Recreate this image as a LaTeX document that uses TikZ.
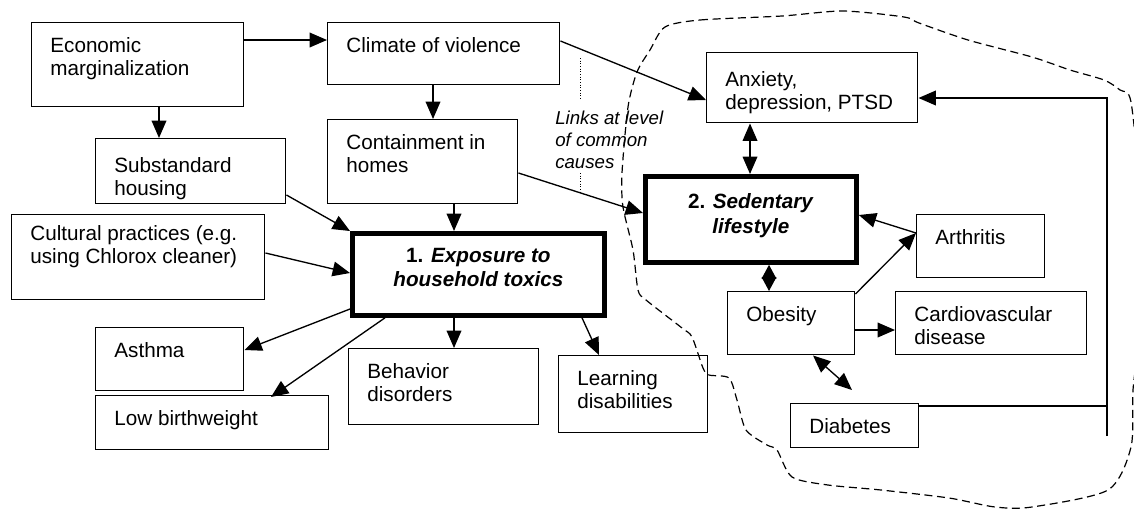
\documentclass[tikz,border=0pt]{standalone}
\usepackage{fontspec}
\setmainfont{Liberation Sans}
\usetikzlibrary{calc}
\usetikzlibrary{arrows.meta}

\newcommand{\celltext}[4][11.3pt]{\parbox[b][#3][t]{#2}{\leftskip=14pt\relax\vspace*{#1}#4}}
\newcommand{\maintext}[4][10.9pt]{\parbox[b][#3][t]{#2}{\centering\vspace*{#1}#4}}

\begin{document}
\begin{tikzpicture}[x=0.75pt,y=0.75pt,yscale=-1,xscale=1,
  box/.style={draw, line width=1.1pt, anchor=north west, inner sep=0pt, font=\fontsize{15.5}{17}\selectfont},
  mainbox/.style={draw, line width=3.6pt, anchor=north west, inner sep=0pt, font=\fontsize{15.5}{18.5}\selectfont\bfseries},
  link/.style={line width=1pt, -{Triangle[length=13pt,width=11pt]}},
  twolink/.style={line width=1pt, {Triangle[length=13pt,width=11pt]}-{Triangle[length=13pt,width=11pt]}}]
\useasboundingbox (0,0) rectangle (1134,508);

%Shape: Dashed outline [id:region]
\draw [line width=0.9pt, dash pattern={on 6pt off 3.5pt}] plot [smooth cycle, tension=0.45] coordinates {
  (665,27) (700,20) (782,16) (843,11) (904,17) (919,23) (968,40) (1032,57) (1070,70) (1104,80) (1120,90) (1131,102)
  (1140,200) (1139,330) (1133,390) (1131,447) (1108,490) (1032,507) (995,507) (949,498) (881,490) (828,485)
  (792,477) (777,450) (767,445) (746,430) (737,400) (729,378) (709,375) (703,368) (692,337) (682,328)
  (646,300) (638,290) (633,250) (623,207) (622,173) (628,107) (637,72) (650,50)};

% Boxes
\node [box] (econ) at (31,22) {\celltext{159pt}{63pt}{Economic\\marginalization}};
\node [box] (climate) at (327,22) {\celltext{174pt}{46.5pt}{Climate of violence}};
\node [box] (contain) at (327,119) {\celltext{142.5pt}{63pt}{Containment in\\homes}};
\node [box] (subst) at (95,138) {\celltext[14pt]{142.5pt}{48.75pt}{Substandard\\housing}};
\node [box] (cult) at (11,214) {\celltext[8pt]{189.75pt}{63.75pt}{Cultural practices (e.g.\\using Chlorox cleaner)}};
\node [mainbox] (expo) at (350,231) {\maintext{189pt}{61.5pt}{1. \textit{Exposure to}\\\textit{household toxics}}};
\node [box] (asthma) at (95,327) {\celltext{111pt}{47.25pt}{Asthma}};
\node [box] (lowbw) at (95,395) {\celltext{174.75pt}{40.5pt}{Low birthweight}};
\node [box] (behav) at (348,348) {\celltext{142.5pt}{57pt}{Behavior\\disorders}};
\node [box] (learn) at (558,355) {\celltext{111.75pt}{57.75pt}{Learning\\disabilities}};
\node [box] (anx) at (706,52) {\celltext[14pt]{158.25pt}{52.5pt}{Anxiety,\\depression, PTSD}};
\node [mainbox] (sed) at (643,174) {\maintext[13.2pt]{158.25pt}{64.5pt}{2. \textit{Sedentary}\\\textit{lifestyle}}};
\node [box] (arth) at (916,214) {\celltext{96pt}{47.25pt}{Arthritis}};
\node [box] (obes) at (727,291) {\celltext{95.25pt}{47.25pt}{Obesity}};
\node [box] (cardio) at (895,291) {\celltext{143.25pt}{47.25pt}{Cardiovascular\\disease}};
\node [box] (diab) at (790,403) {\celltext[11pt]{96pt}{33pt}{Diabetes}};

% Text Node
\node [anchor=north west, inner sep=0pt, align=left, font=\fontsize{14}{16.5}\selectfont\itshape] (links) at (555,111) {Links at level\\of common\\causes};
%Straight Lines [dotted]
\draw [line width=0.7pt, dash pattern={on 0.7pt off 1.3pt}] (580,58) -- (580,100);
\draw [line width=0.7pt, dash pattern={on 0.7pt off 1.3pt}] (580,173) -- (580,192);

% Connections
\draw [link] ($(econ.north east)+(0,18)$) -- ($(climate.north west)+(0,18)$);
\draw [link] ($(econ.south west)+(128,0)$) -- ($(subst.north west)+(64,0)$);
\draw [link] ($(climate.south west)+(106,0)$) -- ($(contain.north west)+(106,0)$);
\draw [link] ($(climate.north east)+(0,19)$) -- ($(anx.north west)+(0,48)$);
\draw [link] ($(contain.north east)+(0,54)$) -- ($(sed.north west)+(0,39)$);
\draw [link] ($(contain.south west)+(127,0)$) -- ($(expo.north west)+(104,0)$);
\draw [link] ($(subst.north east)+(0,57)$) -- (expo.north west);
\draw [link] ($(cult.north east)+(0,39)$) -- ($(expo.north west)+(0,42)$);
\draw [link] ($(expo.north west)+(0,78)$) -- ($(asthma.north east)+(0,23)$);
\draw [link] ($(expo.south west)+(35,0)$) -- ($(lowbw.north west)+(176,2)$);
\draw [link] ($(expo.south west)+(104,0)$) -- ($(behav.north west)+(106,0)$);
\draw [link] ($(expo.south west)+(232,0)$) -- ($(learn.north west)+(41,0)$);
\draw [twolink] ($(anx.south west)+(44,0)$) -- ($(sed.north west)+(107,0)$);
\draw [line width=1pt, {Triangle[length=10.5pt,width=11pt]}-{Triangle[length=10.5pt,width=11pt]}] ($(sed.south west)+(126,0)$) -- ($(obes.north west)+(42,0)$);
\draw [link] ($(arth.north west)+(0,19)$) -- ($(sed.north east)+(0,41)$);
\draw [link] ($(obes.north east)+(0,3)$) -- ($(arth.north west)+(0,19)$);
\draw [link] ($(obes.north east)+(0,39)$) -- ($(cardio.north west)+(0,39)$);
\coordinate (diabtip) at ($(diab.north west)+(62,-13)$);
\draw [twolink] ($(obes.south west)+(86,0)$) -- (diabtip);

% Feedback line
\coordinate (rbot) at (1107,436);
\coordinate (rtop) at (1107,98);
\coordinate (dout) at ($(diab.north east)+(0,3)$);
\draw [line width=1pt] (dout) -- (dout -| rbot);
\draw [link] (rbot) -- (rtop) -- (rtop -| anx.east);

\end{tikzpicture}
\end{document}
